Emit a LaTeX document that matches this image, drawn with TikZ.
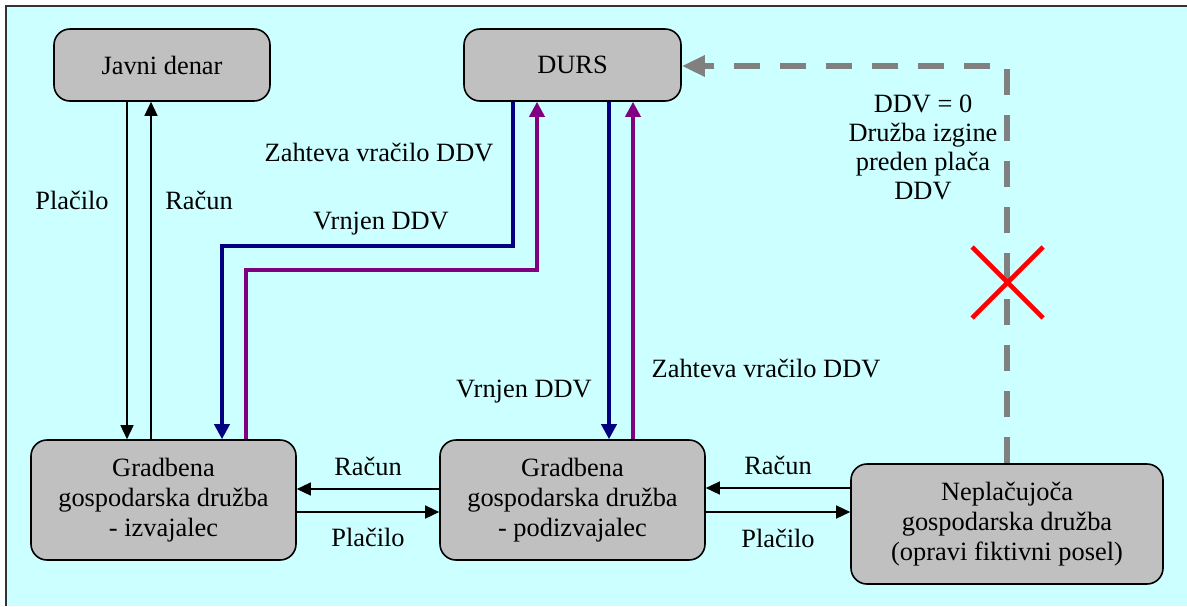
\documentclass[tikz,border=0pt]{standalone}
\usepackage{fontspec}
\setmainfont{Liberation Serif}
\usetikzlibrary{arrows.meta,calc}
\definecolor{bgcyan}{RGB}{204,255,255}
\definecolor{boxgray}{RGB}{192,192,192}
\definecolor{navyblue}{RGB}{0,0,128}
\definecolor{purp}{RGB}{128,0,128}
\definecolor{dgray}{RGB}{128,128,128}
\begin{document}
\begin{tikzpicture}[x=0.5pt,y=-0.5pt,
  font=\fontsize{13.2}{15}\selectfont,
  box/.style={draw=black,line width=0.8pt,fill=boxgray,rounded corners=8pt,align=center,inner sep=0pt},
  blk/.style={draw=black,line width=0.7pt,-{Triangle[length=7pt,width=6.5pt]}},
  blu/.style={draw=navyblue,line width=1.8pt,-{Triangle[length=7.5pt,width=7.5pt]}},
  pur/.style={draw=purp,line width=1.8pt,-{Triangle[length=7.5pt,width=7.5pt]}},
  gdash/.style={draw=dgray,line width=3pt,dash pattern=on 13pt off 10pt,-{Triangle[length=11.5pt,width=10pt]}},
  lbl/.style={align=center,inner sep=0pt}]
\useasboundingbox (0,0) rectangle (1187,606);
\fill[white] (0,0) rectangle (1187,606);
\fill[bgcyan] (6,6) rectangle (1187,606);
\draw[line width=0.8pt,black!80] (6,606) -- (6,6) -- (1187,6);

\node[box,minimum width=108pt,minimum height=36pt] (jd) at (162,65) {Javni denar};
\node[box,minimum width=108.5pt,minimum height=36pt] (durs) at (572.5,65) {DURS};
\node[box,minimum width=132.5pt,minimum height=60pt] (izv) at (163.5,500) {Gradbena\\gospodarska družba\\- izvajalec};
\node[box,minimum width=132.5pt,minimum height=60pt] (pod) at (572.5,500) {Gradbena\\gospodarska družba\\- podizvajalec};
\node[box,minimum width=156pt,minimum height=60pt] (nep) at (1007,524) {Neplačujoča\\gospodarska družba\\(opravi fiktivni posel)};

% Javni denar <-> izvajalec
\coordinate (jp) at ($(jd.south)+(-35,0)$);
\coordinate (jr) at ($(jd.south)+(-11,0)$);
\draw[blk] (jp) -- (jp |- izv.north);
\draw[blk] (jr |- izv.north) -- (jr);
\node[lbl] (l1) at (72,200) {Plačilo};
\node[lbl] (l2) at (199,200) {Račun};

% DURS <-> izvajalec
\coordinate (b1) at ($(durs.south)+(-59.5,0)$);
\coordinate (b1c) at (222,246);
\draw[blu] (b1) -- (b1 |- b1c) -- (b1c) -- (b1c |- izv.north);
\coordinate (p1) at ($(durs.south)+(-35.5,0)$);
\coordinate (p1c) at (246,270);
\draw[pur] (p1c |- izv.north) -- (p1c) -- (p1 |- p1c) -- (p1);
\node[lbl] (l3) at (379,153) {Zahteva vračilo DDV};
\node[lbl] (l4) at (381,224) {Vrnjen DDV};

% DURS <-> podizvajalec
\coordinate (b2) at ($(durs.south)+(36.5,0)$);
\coordinate (p2) at ($(durs.south)+(60.5,0)$);
\draw[blu] (b2) -- (b2 |- pod.north);
\draw[pur] (p2 |- pod.north) -- (p2);
\node[lbl] (l5) at (524,392) {Vrnjen DDV};
\node[lbl] (l6) at (766,369) {Zahteva vračilo DDV};

% izvajalec <-> podizvajalec
\coordinate (h1) at ($(pod.west)+(0,-11)$);
\coordinate (h2) at ($(izv.east)+(0,12)$);
\draw[blk] (h1) -- (h1 -| izv.east);
\draw[blk] (h2) -- (h2 -| pod.west);
\node[lbl] (l7) at (368,466) {Račun};
\node[lbl] (l8) at (368,537) {Plačilo};

% podizvajalec <-> neplacujoca
\coordinate (h3) at ($(pod.east)+(0,-12)$);
\coordinate (h4) at ($(pod.east)+(0,12)$);
\draw[blk] (h3 -| nep.west) -- (h3);
\draw[blk] (h4) -- (h4 -| nep.west);
\node[lbl] (l9) at (778,465) {Račun};
\node[lbl] (l10) at (778,538) {Plačilo};

% dashed
\coordinate (gc) at (1007,66);
\draw[gdash] (nep.north) -- (gc) -- (gc -| durs.east);
\node[lbl,font=\fontsize{13.2}{14.5}\selectfont] (l11) at (923,147) {DDV = 0\\Družba izgine\\preden plača\\DDV};

% red cross
\coordinate (x1) at (972,247);
\coordinate (x2) at (1043,318);
\coordinate (x3) at (972,318);
\coordinate (x4) at (1043,247);
\draw[red,line width=2.3pt] (x1) -- (x2) (x3) -- (x4);
\end{tikzpicture}
\end{document}
